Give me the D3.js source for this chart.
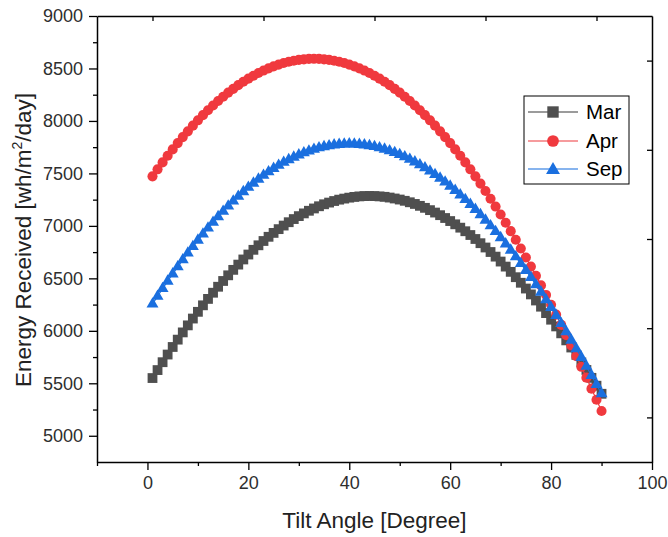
<!DOCTYPE html>
<html><head><meta charset="utf-8">
<script src="https://cdn.jsdelivr.net/npm/d3@7"></script>
<style>body{margin:0;background:#fff}svg{display:block}</style>
</head><body>
<script>
// ---- data ----
const tiltAngles = [1,2,3,4,5,6,7,8,9,10,11,12,13,14,15,16,17,18,19,20,21,22,23,24,25,26,27,28,29,30,
  31,32,33,34,35,36,37,38,39,40,41,42,43,44,45,46,47,48,49,50,51,52,53,54,55,56,57,58,59,60,
  61,62,63,64,65,66,67,68,69,70,71,72,73,74,75,76,77,78,79,80,81,82,83,84,85,86,87,88,89,90];
const marValues = [5550,5626,5701,5774,5846,5916,5985,6052,6117,6181,
  6243,6304,6363,6420,6475,6529,6581,6631,6680,6727,
  6772,6815,6856,6896,6933,6969,7003,7035,7065,7093,
  7119,7144,7166,7187,7206,7222,7237,7250,7260,7269,
  7276,7281,7284,7285,7284,7281,7277,7270,7261,7251,
  7239,7225,7209,7191,7172,7150,7127,7102,7075,7046,
  7015,6983,6949,6913,6875,6835,6794,6751,6707,6660,
  6612,6562,6511,6458,6403,6347,6289,6230,6169,6106,
  6042,5976,5909,5841,5771,5699,5627,5552,5477,5400];
const aprValues = [7472,7539,7605,7668,7729,7789,7846,7901,7955,8006,
  8055,8102,8147,8190,8231,8270,8306,8341,8373,8403,
  8431,8457,8480,8501,8520,8537,8552,8564,8574,8582,
  8587,8591,8592,8591,8587,8582,8574,8564,8552,8537,
  8520,8501,8480,8457,8431,8403,8373,8341,8306,8270,
  8231,8190,8147,8102,8055,8006,7955,7901,7846,7789,
  7729,7668,7605,7539,7472,7403,7332,7259,7184,7108,
  7030,6950,6868,6784,6699,6612,6524,6433,6342,6248,
  6154,6057,5959,5860,5759,5657,5554,5449,5343,5236];
const sepValues = [6255,6329,6402,6473,6542,6610,6676,6740,6803,6863,
  6922,6979,7034,7087,7139,7188,7236,7282,7325,7367,
  7407,7445,7481,7515,7547,7577,7605,7630,7654,7676,
  7696,7713,7729,7743,7754,7763,7771,7776,7779,7780,
  7779,7776,7771,7764,7755,7743,7730,7715,7698,7679,
  7658,7634,7609,7582,7553,7522,7489,7454,7417,7378,
  7337,7295,7250,7204,7156,7106,7054,7000,6945,6887,
  6828,6768,6705,6641,6575,6508,6438,6368,6295,6221,
  6146,6069,5990,5910,5828,5746,5661,5575,5488,5400];
const seriesNames = ["Mar","Apr","Sep"];
const xTickValues = [0,20,40,60,80,100];
const xMinorTicks = [-10,10,30,50,70,90];
const yTickValues = [5000,5500,6000,6500,7000,7500,8000,8500,9000];
const yMinorTicks = [5250,5750,6250,6750,7250,7750,8250,8750];
const xTitle = "Tilt Angle [Degree]";

// ---- layout ----
const W = 668, H = 537;
const L = 97, R = 652, T = 16, B = 462;
const colors = ["#4f4f4f","#F0393E","#1A6FDF"];
const legendLineColors = ["#7a7a7a","#f37a7d","#5f9be9"];
const symbols = [d3.symbolSquare, d3.symbolCircle, d3.symbolTriangle];
const symSizes = [96, 80, 62];
const font = "'Liberation Sans', Arial, sans-serif";

const svg = d3.select("body").append("svg").attr("width", W).attr("height", H)
  .style("font-family", font);

const x = d3.scaleLinear().domain([-10, 100]).range([L, R]);
const y = d3.scaleLinear().domain([4750, 9000]).range([B, T]);

// series
const allSeries = [marValues, aprValues, sepValues];
allSeries.forEach((vals, i) => {
  const pts = tiltAngles.map((a, k) => [a, vals[k]]);
  svg.append("path").datum(pts)
    .attr("fill", "none").attr("stroke", colors[i]).attr("stroke-width", 1.2)
    .attr("d", d3.line().x(d => x(d[0])).y(d => y(d[1])));
  svg.append("g").selectAll("path").data(pts).join("path")
    .attr("transform", d => `translate(${x(d[0])},${y(d[1])})`)
    .attr("d", d3.symbol().type(symbols[i]).size(symSizes[i]))
    .attr("fill", colors[i]);
});

// axes
const axisColor = "#000";
const tickLabelColor = "#2e2e2e";
const gx = svg.append("g").attr("transform", `translate(0,${B})`)
  .call(d3.axisBottom(x).tickValues(xTickValues).tickFormat(d3.format("d")).tickSize(8).tickPadding(5).tickSizeOuter(0));
svg.append("g").attr("transform", `translate(0,${B})`)
  .call(d3.axisBottom(x).tickValues(xMinorTicks).tickSize(4).tickFormat("").tickSizeOuter(0))
  .select(".domain").remove();
const gy = svg.append("g").attr("transform", `translate(${L},0)`)
  .call(d3.axisLeft(y).tickValues(yTickValues).tickFormat(d3.format("d")).tickSize(8).tickPadding(6).tickSizeOuter(0));
svg.append("g").attr("transform", `translate(${L},0)`)
  .call(d3.axisLeft(y).tickValues(yMinorTicks).tickSize(4).tickFormat("").tickSizeOuter(0))
  .select(".domain").remove();
const xTop = d3.scaleLinear().domain([0, 10]).range([L, R]);
const yRight = d3.scaleLinear().domain([0, 10]).range([B, T]);
svg.append("g").attr("transform", `translate(0,${T})`)
  .call(d3.axisBottom(xTop).tickValues([1,3,5,7,9]).tickSize(5).tickFormat("").tickSizeOuter(0));
svg.append("g").attr("transform", `translate(${R},0)`)
  .call(d3.axisLeft(yRight).tickValues([1,3,5,7,9]).tickSize(5).tickFormat("").tickSizeOuter(0));

svg.selectAll(".domain").attr("stroke", axisColor).attr("stroke-width", 1.5);
svg.selectAll(".tick line").attr("stroke", axisColor).attr("stroke-width", 1.3);
svg.selectAll(".tick text").attr("fill", tickLabelColor).style("font-size", "18px")
  .style("font-family", font);
gx.selectAll(".tick text").attr("dy", "0.76em");

// titles
svg.append("text").attr("x", (L + R) / 2).attr("y", 528).attr("text-anchor", "middle")
  .attr("fill", "#222").style("font-size", "22.5px").text(xTitle);
const yt = svg.append("text").attr("transform", `translate(31,${(T + B) / 2 + 1}) rotate(-90)`)
  .attr("text-anchor", "middle").attr("fill", "#222").style("font-size", "22.5px");
yt.append("tspan").text("Energy Received [wh/m");
yt.append("tspan").text("2").style("font-size", "14px").attr("dy", "-9");
yt.append("tspan").text("/day]").attr("dy", "9");

// legend
const lg = svg.append("g");
lg.append("rect").attr("x", 524).attr("y", 96).attr("width", 105).attr("height", 88)
  .attr("fill", "#fff").attr("stroke", "#000").attr("stroke-width", 1);
const rowY = [112, 141, 169];
seriesNames.forEach((name, i) => {
  lg.append("line").attr("x1", 528).attr("x2", 578).attr("y1", rowY[i]).attr("y2", rowY[i])
    .attr("stroke", legendLineColors[i]).attr("stroke-width", 1.3);
  lg.append("path").attr("transform", `translate(553,${rowY[i] + (i === 2 ? 1 : 0)})`)
    .attr("d", d3.symbol().type(symbols[i]).size(symSizes[i] * 1.35)).attr("fill", colors[i]);
  lg.append("text").attr("x", 586).attr("y", rowY[i]).attr("dy", "0.36em")
    .attr("fill", "#000").style("font-size", "20.5px").text(name);
});
</script>
</body></html>
